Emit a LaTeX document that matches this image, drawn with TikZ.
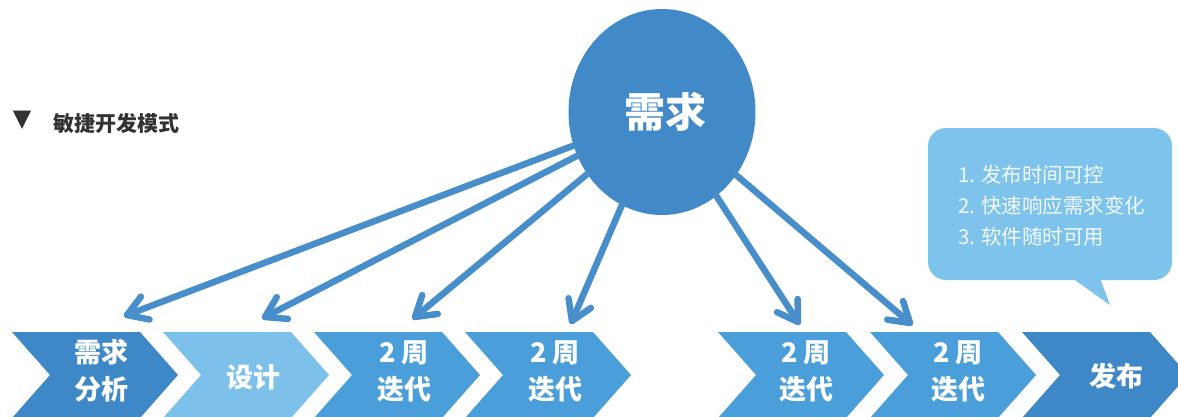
\documentclass[tikz,border=0pt]{standalone}
\usepackage{fontspec}
\setmainfont{Noto Sans CJK SC}
\newfontfamily\symfont{DejaVu Sans}
\usetikzlibrary{calc,shapes.geometric}
\definecolor{circcol}{RGB}{65,137,199}
\definecolor{arrcol}{RGB}{72,142,202}
\definecolor{darkchev}{RGB}{62,136,200}
\definecolor{lightchev}{RGB}{125,192,234}
\definecolor{midchev}{RGB}{74,159,218}
\definecolor{bubcol}{RGB}{126,195,236}
\definecolor{titlecol}{RGB}{50,50,50}
\definecolor{bubtext}{RGB}{242,249,255}
\tikzset{
  chev/.pic={\path[pic actions] (0,0) -- (128,0) -- (166,43) -- (128,86) -- (0,86) -- (38,43) -- cycle;},
  lab/.style={text=white, align=center, inner sep=0pt, font=\fontsize{27}{37}\selectfont\bfseries},
  reqline/.style={draw=arrcol, line width=6.5pt, line cap=round, line join=round},
}
\begin{document}
\begin{tikzpicture}[x=1pt,y=-1pt]
\useasboundingbox (0,0) rectangle (1178,416);
\clip (0,0) rectangle (1178,416);
\fill[white] (0,0) rectangle (1178,416);
% title
\node[text=titlecol, inner sep=0pt, font=\symfont\fontsize{24}{24}\selectfont] (tri) at (22,120) {▼};
\node[anchor=west, text=titlecol, inner sep=0pt, font=\fontsize{21}{21}\selectfont\bfseries] (title) at (53,123) {敏捷开发模式};
% chevrons
\pic[fill=darkchev] at (12,332) {chev};
\pic[fill=lightchev] at (163,332) {chev};
\pic[fill=midchev] at (314,332) {chev};
\pic[fill=midchev] at (465,332) {chev};
\pic[fill=midchev] at (718,332) {chev};
\pic[fill=midchev] at (870,332) {chev};
\pic[fill=darkchev] at (1022,332) {chev};
\node[lab] (c1) at (101,371) {需求\\分析};
\node[lab] (c2) at (253,377) {设计};
\node[lab] (c3) at (404,371) {2 周\\迭代};
\node[lab] (c4) at (555,371) {2 周\\迭代};
\node[lab] (c5) at (806,371) {2 周\\迭代};
\node[lab] (c6) at (958,371) {2 周\\迭代};
\node[lab] (c7) at (1116,376) {发布};
% central ellipse
\node[ellipse, fill=circcol, minimum width=187pt, minimum height=206pt, inner sep=0pt, text=white, font=\fontsize{41}{41}\selectfont\bfseries] (req) at (662,112) {\hspace*{6pt}需求};
% arrow targets
\coordinate (t1) at (127,315);
\coordinate (t2) at (265,317);
\coordinate (t3) at (415,317);
\coordinate (t4) at (572,321);
\coordinate (t5) at (798,322);
\coordinate (t6) at (910,323);
\foreach \t in {t1,t2,t3,t4,t5,t6} {
  \draw[reqline] (req) -- (\t);
  \draw[reqline] ($(\t)!23pt!-32:(req.center)$) -- (\t) -- ($(\t)!23pt!32:(req.center)$);
}
% speech bubble
\fill[bubcol, rounded corners=18pt] (928,128) rectangle (1172,280);
\fill[bubcol] (1072,278) -- (1110,305) -- (1100,278) -- cycle;
\node[anchor=west, align=left, text=bubtext, inner sep=0pt, font=\fontsize{20.5}{31}\selectfont] (note) at (958,206) {1. 发布时间可控\\2. 快速响应需求变化\\3. 软件随时可用};
\end{tikzpicture}
\end{document}
